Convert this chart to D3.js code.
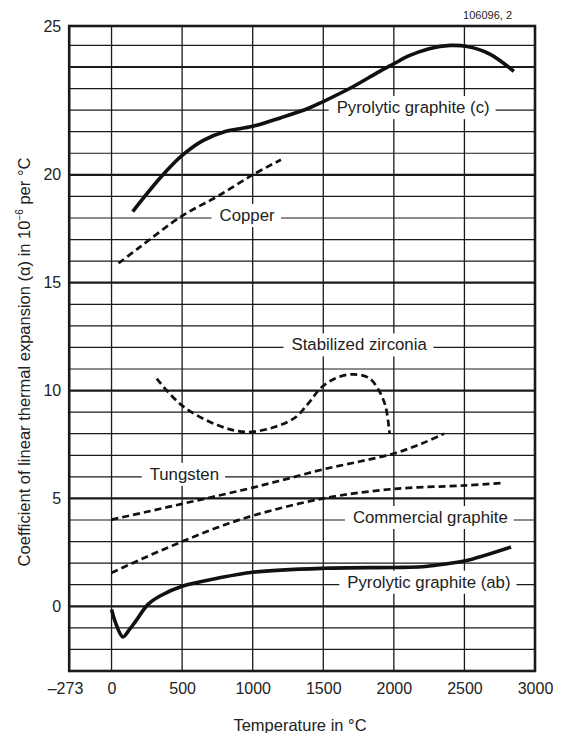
<!DOCTYPE html>
<html><head><meta charset="utf-8">
<script src="https://cdn.jsdelivr.net/npm/d3@7"></script>
<style>
body{margin:0;background:#fff}
svg{display:block}
text{font-family:"Liberation Sans",Arial,Helvetica,sans-serif;fill:#222}
</style>
</head><body><svg id="c" width="563" height="733"></svg>
<script>
// ---- data ----
const xTickValues = [-273, 0, 500, 1000, 1500, 2000, 2500, 3000];
const xTickLabels = ["–273", "0", "500", "1000", "1500", "2000", "2500", "3000"];
const yTickValues = [0, 5, 10, 15, 20];
const yTickLabels = ["0", "5", "10", "15", "20"];
const yTopLabel = "25";           // printed at the top edge of the frame in the original
const xGridValues = [0, 500, 1000, 1500, 2000, 2500];
const xDomain = [-300, 3000];
const yDomain = [-3, 26.9];

const pgcT = [150, 350, 500, 650, 800, 1000, 1200, 1400, 1500, 1700, 1900, 2000, 2100, 2250, 2400, 2520, 2680, 2850];
const pgcA = [18.3, 19.9, 20.9, 21.6, 22.0, 22.25, 22.65, 23.1, 23.4, 24.05, 24.8, 25.15, 25.5, 25.85, 26.0, 25.95, 25.6, 24.8];

const copperT = [50, 200, 500, 750, 1000, 1200];
const copperA = [15.9, 16.65, 18.1, 19.0, 20.0, 20.7];

const zircT = [320, 500, 750, 950, 1150, 1300, 1400, 1480, 1580, 1700, 1820, 1890, 1940, 1970];
const zircA = [10.55, 9.3, 8.4, 8.08, 8.3, 8.75, 9.45, 10.1, 10.55, 10.75, 10.6, 10.05, 9.3, 8.0];

const tungT = [0, 250, 500, 750, 1000, 1250, 1500, 1750, 2000, 2200, 2355];
const tungA = [4.02, 4.38, 4.75, 5.12, 5.5, 5.92, 6.35, 6.7, 7.08, 7.55, 8.0];

const cgT = [0, 250, 500, 750, 1000, 1500, 2000, 2500, 2780];
const cgA = [1.55, 2.3, 3.0, 3.65, 4.2, 5.0, 5.44, 5.6, 5.72];

const pgabT = [0, 25, 80, 130, 170, 260, 350, 500, 750, 1000, 1500, 2000, 2200, 2350, 2500, 2830];
const pgabA = [-0.15, -0.7, -1.42, -1.05, -0.7, 0.1, 0.5, 0.93, 1.3, 1.58, 1.76, 1.8, 1.83, 1.95, 2.1, 2.75];

const seriesNames = ["Pyrolytic graphite (c)", "Copper", "Stabilized zirconia", "Tungsten", "Commercial graphite", "Pyrolytic graphite (ab)"];
const seriesDashed = [false, true, true, true, true, false];
const seriesT = [pgcT, copperT, zircT, tungT, cgT, pgabT];
const seriesA = [pgcA, copperA, zircA, tungA, cgA, pgabA];
// label anchor (data units: text start temperature, grid line value it sits on)
const labelT = [1595, 765, 1275, 270, 1710, 1670];
const labelA = [23, 18, 12, 6, 4, 1];

const yTitle = "Coefficient of linear thermal expansion (α) in 10";
const yTitleSup = "−6";
const yTitleEnd = " per °C";
const xTitle = "Temperature in °C";
const figId = "106096, 2";

// ---- chart ----
const svg = d3.select("#c");
const L = 69.2, R = 535, T = 26, B = 671;
const x = d3.scaleLinear().domain(xDomain).range([L, R]);
const y = d3.scaleLinear().domain(yDomain).range([B, T]);
const ink = "#1a1a1a";

const grid = svg.append("g");
const yLines = d3.range(Math.ceil(yDomain[0]) + 1, Math.floor(yDomain[1]) + 1);
grid.selectAll("line.h").data(yLines).join("line")
  .attr("x1", L).attr("x2", R)
  .attr("y1", d => y(d)).attr("y2", d => y(d))
  .attr("stroke", ink)
  .attr("stroke-width", d => d % 5 === 0 ? 2.2 : 1.2);
grid.selectAll("line.v").data(xGridValues).join("line")
  .attr("x1", d => x(d)).attr("x2", d => x(d))
  .attr("y1", T).attr("y2", B)
  .attr("stroke", ink).attr("stroke-width", 1.3);
svg.append("rect").attr("x", L).attr("y", T).attr("width", R - L).attr("height", B - T)
  .attr("fill", "none").attr("stroke", ink).attr("stroke-width", 2.6);

// axes
const xAxis = d3.axisBottom(x).tickValues(xTickValues).tickSize(0).tickPadding(12)
  .tickFormat((d, i) => xTickLabels[i]);
svg.append("g").attr("transform", `translate(0,${B})`).call(xAxis)
  .call(g => g.select(".domain").remove())
  .selectAll("text").style("font-size", "16px").attr("fill", "#222")
  .attr("dx", d => d < 0 ? -8 : 0)
  .style("font-family", '"Liberation Sans",Arial,sans-serif');

const yVals = yTickValues.concat([yDomain[1]]);
const yLabs = yTickLabels.concat([yTopLabel]);
const yAxis = d3.axisLeft(y).tickValues(yVals).tickSize(0).tickPadding(8)
  .tickFormat((d, i) => yLabs[i]);
svg.append("g").attr("transform", `translate(${L},0)`).call(yAxis)
  .call(g => g.select(".domain").remove())
  .selectAll("text").style("font-size", "16px").attr("fill", "#222")
  .style("font-family", '"Liberation Sans",Arial,sans-serif');

// labels with white backgrounds
const lab = svg.append("g");
seriesNames.forEach((name, i) => {
  const g = lab.append("g");
  const t = g.append("text").attr("x", x(labelT[i])).attr("y", y(labelA[i]) + 3)
    .style("font-size", "16.8px").text(name);
  const bb = t.node().getBBox();
  g.insert("rect", "text").attr("x", bb.x - 8).attr("y", bb.y - 2)
    .attr("width", bb.width + 14).attr("height", bb.height + 4).attr("fill", "#fff");
});

// curves
const line = d3.line().x(d => x(d[0])).y(d => y(d[1])).curve(d3.curveCatmullRom.alpha(0.5));
seriesNames.forEach((name, i) => {
  const pts = seriesT[i].map((t, j) => [t, seriesA[i][j]]);
  svg.append("path").datum(pts).attr("d", line)
    .attr("fill", "none").attr("stroke", "#111")
    .attr("stroke-width", seriesDashed[i] ? 2.7 : 3.6)
    .attr("stroke-dasharray", seriesDashed[i] ? "7,4" : null)
    .attr("stroke-linecap", "butt");
});

// titles
svg.append("text").attr("text-anchor", "middle").attr("x", 300).attr("y", 731)
  .style("font-size", "16.5px").text(xTitle);
const yt = svg.append("text").attr("text-anchor", "middle")
  .attr("transform", "translate(30,362) rotate(-90)").style("font-size", "16.5px");
yt.append("tspan").text(yTitle);
yt.append("tspan").attr("dy", -7).style("font-size", "10px").text(yTitleSup);
yt.append("tspan").attr("dy", 7).text(yTitleEnd);

svg.append("text").attr("text-anchor", "end").attr("x", 512).attr("y", 19)
  .style("font-size", "11px").text(figId);
</script>
</body></html>
